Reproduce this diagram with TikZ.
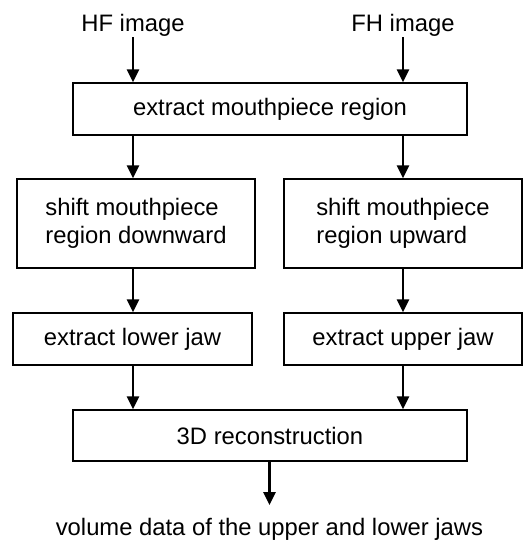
\documentclass[tikz,border=0pt]{standalone}
\usepackage{fontspec}
\setmainfont{Liberation Sans}
\usepackage{tikz}
\usetikzlibrary{arrows.meta,calc}
\tikzstyle{tsText} = [
    text=black,
    font=\fontsize{23.8}{28}\selectfont
]
\tikzstyle{tsLabel} = [
    tsText,
    inner sep=0pt
]
\tikzstyle{tsBox} = [
    rectangle,
    tsText,
    draw=black,
    line width=1.2pt,
    align=left
]
\tikzstyle{tsArrow} = [
    -{Triangle[length=13pt,width=12pt]},
    line width=2.6pt
]

\begin{document}
\begin{tikzpicture}[x=1pt, y=-1pt]

        \useasboundingbox (0,0) rectangle (524,542);

        % Input images
        \node[tsLabel, anchor=south] (hf) at (133,37) {HF image};
        \node[tsLabel, anchor=south] (fh) at (403,37) {FH image};

        % Processing steps
        \node[tsBox, minimum width=394pt, minimum height=52pt] (mouth) at (270,109) {extract mouthpiece region};
        \node[tsBox, minimum width=238pt, minimum height=89pt] (shiftdown) at (136,223.5) {shift mouthpiece\\region downward};
        \node[tsBox, minimum width=238pt, minimum height=89pt] (shiftup) at (403,223.5) {shift mouthpiece\\region upward};
        \node[tsBox, minimum width=239pt, minimum height=52pt] (lowjaw) at (132.5,339) {extract lower jaw};
        \node[tsBox, minimum width=238pt, minimum height=52pt] (upjaw) at (403,339) {extract upper jaw};
        \node[tsBox, minimum width=394pt, minimum height=51pt] (recon) at (270,435.5) {3D reconstruction};

        % Output
        \node[tsLabel, anchor=north, inner ysep=13pt] (vol) at (269.5,505) {volume data of the upper and lower jaws};

        % Connecting arrows
        \draw[tsArrow] (hf.south) -- (mouth.north -| hf.south);
        \draw[tsArrow] (fh.south) -- (mouth.north -| fh.south);
        \draw[tsArrow] (mouth.south -| hf.south) -- (shiftdown.north -| hf.south);
        \draw[tsArrow] (mouth.south -| fh.south) -- (shiftup.north -| fh.south);
        \draw[tsArrow] (shiftdown.south -| hf.south) -- (lowjaw.north -| hf.south);
        \draw[tsArrow] (shiftup.south -| fh.south) -- (upjaw.north -| fh.south);
        \draw[tsArrow] (lowjaw.south -| hf.south) -- (recon.north -| hf.south);
        \draw[tsArrow] (upjaw.south -| fh.south) -- (recon.north -| fh.south);
        \draw[tsArrow] (recon.south -| vol.north) -- (vol.north);

    \end{tikzpicture}
\end{document}
